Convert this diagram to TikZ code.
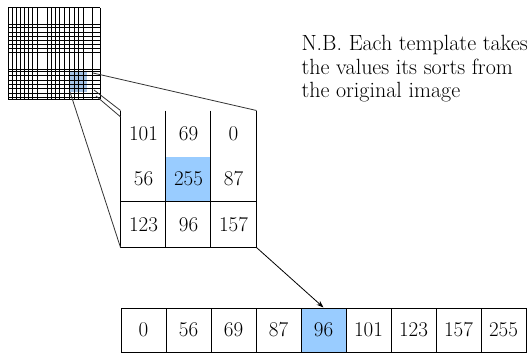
\documentclass[tikz,border=0pt]{standalone}
\usetikzlibrary{arrows.meta}
\definecolor{cellblue}{RGB}{153,204,255}
\definecolor{patchblue}{RGB}{165,195,230}
\begin{document}
\begin{tikzpicture}[x=1pt,y=-1pt,line width=1pt,
  txt/.style={font=\fontsize{21}{23.5}\selectfont},
  notetxt/.style={font=\fontsize{22}{23.5}\selectfont},
  cell/.style={txt,minimum width=45pt,minimum height=45pt,inner sep=0pt},
  rowcell/.style={cell,draw,minimum height=44pt},
  zoomline/.style={line width=0.8pt,black!80},
  gridline/.style={line width=1pt}]
\useasboundingbox (0,0) rectangle (530,353);
% highlighted patch in the image grid
\node[fill=patchblue,minimum width=18pt,minimum height=21pt,inner sep=0pt] (patch) at (78,81.5) {};
% image grid
\foreach \x in {8,12,16,20,24,28,32,37,47,51,55,59,64,69,74,78,83,92,100}
  \draw[gridline] (\x,8) -- (\x,99);
\foreach \y in {8,25,28,33,37,41,45,49,53,70,72,76,80,84,88,93,97,99}
  \draw[gridline] (8,\y) -- (100,\y);
% 3x3 template
\node[cell] (t11) at (143.5,133.5) {101};
\node[cell] (t12) at (188.5,133.5) {69};
\node[cell] (t13) at (233.5,133.5) {0};
\node[cell] (t21) at (143.5,179) {56};
\node[cell,fill=cellblue] (t22) at (188.5,179) {255};
\node[cell] (t23) at (233.5,179) {87};
\node[cell] (t31) at (143.5,224.5) {123};
\node[cell] (t32) at (188.5,224.5) {96};
\node[cell] (t33) at (233.5,224.5) {157};
\draw (t11.north west) -- (t31.south west) -- (t33.south east) -- (t13.north east);
\draw (t31.north west) -- (t33.north east);
\draw (t12.north west) -- (t32.south west);
\draw (t13.north west) -- (t33.south west);
% zoom lines
\coordinate (z1) at (93,73);
\coordinate (z2) at (94,90);
\coordinate (z3) at (96,96);
\coordinate (z3e) at (120.7,117);
\coordinate (z4) at (70,92);
\draw[zoomline] (z1) -- (t13.north east);
\draw[zoomline] (z2) -- (t11.north west);
\draw[zoomline] (z3) -- (z3e);
\draw[zoomline] (z4) -- (t31.south west);
% sorted row
\node[rowcell] (b1) at (143.5,330) {0};
\node[rowcell] (b2) at (188.5,330) {56};
\node[rowcell] (b3) at (233.5,330) {69};
\node[rowcell] (b4) at (278.5,330) {87};
\node[rowcell,fill=cellblue] (b5) at (323.5,330) {96};
\node[rowcell] (b6) at (368.5,330) {101};
\node[rowcell] (b7) at (413.5,330) {123};
\node[rowcell] (b8) at (458.5,330) {157};
\node[rowcell] (b9) at (503.5,330) {255};
\draw[line width=0.8pt,-{Stealth[length=7pt,width=5pt]}] (t33.south east) -- (b5.north);
% note
\node[notetxt,anchor=north west,align=left,inner sep=0pt] (note) at (301,35)
  {N.B. Each template takes\\the values its sorts from\\the original image};
\end{tikzpicture}
\end{document}
